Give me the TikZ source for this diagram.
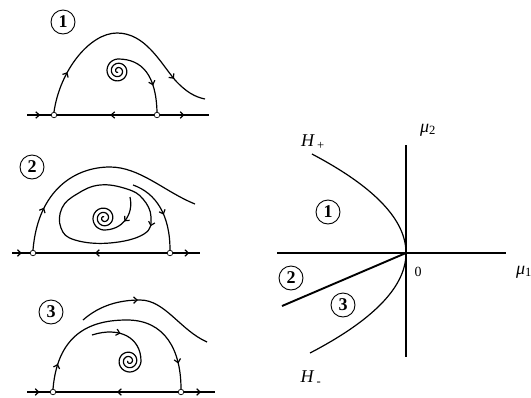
\documentclass[tikz,border=0pt]{standalone}
\usepackage{fontspec}
\setmainfont{Liberation Serif}
\usetikzlibrary{arrows.meta,decorations.markings}

\begin{document}
\begin{tikzpicture}[x=1pt, y=-1pt,
  traj/.style={line width=1.2pt, line join=round},
  thickln/.style={line width=1.9pt},
  eq/.style={circle, draw, fill=white, inner sep=0pt, minimum size=5.5pt, line width=0.7pt},
  region/.style={circle, draw, line width=0.9pt, inner sep=0pt, minimum size=24pt, font=\fontsize{18}{18}\selectfont\bfseries},
  lbl/.style={inner sep=0pt, font=\fontsize{18}{20}\selectfont},
  fwd/.style={postaction={decorate, decoration={markings, mark=at position #1 with {\arrow{Straight Barb[length=3.5pt,width=6.5pt]}}}}},
  bwd/.style={postaction={decorate, decoration={markings, mark=at position #1 with {\arrowreversed{Straight Barb[length=3.5pt,width=6.5pt]}}}}}
]
  \useasboundingbox (0,0) rectangle (531,397);

  % panel 1
  \node[region] (r1) at (63,22) {1};
  \coordinate (L1) at (27,115);
  \coordinate (R1) at (209,115);
  \node[eq] (A1) at (54,115) {};
  \node[eq] (B1) at (157,115) {};
  \draw[traj, fwd=0.55] (L1) -- (A1);
  \draw[traj, bwd=0.55] (A1) -- (B1);
  \draw[traj, fwd=0.5] (B1) -- (R1);
  \draw[traj, fwd=0.19, fwd=0.83] (A1.north) .. controls (60,70) and (90,33) .. (117,33)
    .. controls (145,33) and (160,62) .. (175,80) .. controls (186,92) and (195,97) .. (205,99);
  \draw[traj, bwd=0.15] (B1.north) .. controls (156,75) and (142,59) .. (118,59)
    -- plot[domain=0:900, samples=181] ({118+12*(1-\x/1000)*cos(90+\x)}, {71-12*(1-\x/1000)*sin(90+\x)});

  % panel 2
  \node[region] (r2) at (32,167) {2};
  \coordinate (L2) at (12,253);
  \coordinate (R2) at (200,253);
  \node[eq] (A2) at (33,253) {};
  \node[eq] (B2) at (170,253) {};
  \draw[traj, fwd=0.55] (L2) -- (A2);
  \draw[traj, bwd=0.45] (A2) -- (B2);
  \draw[traj, fwd=0.6] (B2) -- (R2);
  \draw[traj, fwd=0.2] (A2.north) .. controls (38,190) and (75,167) .. (110,167)
    .. controls (140,167) and (165,192) .. (195,204);
  \draw[traj, fwd=0.2] plot[smooth cycle, tension=0.7] coordinates {(100,185) (127,189) (143,199) (151,217) (144,234) (110,243) (75,240) (61,228) (62,208) (77,194)};
  \coordinate (s2) at (133,185);
  \draw[traj, fwd=0.55] (s2) .. controls (156,193) and (170,215) .. (B2.north);
  \coordinate (t2) at (130,197);
  \draw[traj, fwd=0.17] (t2) .. controls (134,215) and (122,230) .. (104,230)
    -- plot[domain=0:900, samples=181] ({104+12*(1-\x/1000)*cos(270-\x)}, {218-12*(1-\x/1000)*sin(270-\x)});

  % panel 3
  \node[region] (r3) at (51,312) {3};
  \coordinate (L3) at (27,392);
  \coordinate (R3) at (215,392);
  \node[eq] (A3) at (53,392) {};
  \node[eq] (B3) at (181,392) {};
  \draw[traj, fwd=0.55] (L3) -- (A3);
  \draw[traj, bwd=0.5] (A3) -- (B3);
  \draw[traj, fwd=0.55] (B3) -- (R3);
  \draw[traj, fwd=0.12, fwd=0.88] (A3.north) .. controls (58,330) and (95,320) .. (127,320)
    .. controls (165,320) and (181,350) .. (B3.north);
  \coordinate (u3) at (83,320);
  \draw[traj, fwd=0.42] (u3) .. controls (100,305) and (120,300) .. (140,300)
    .. controls (165,300) and (180,330) .. (207,342);
  \coordinate (t3) at (92,335);
  \draw[traj, fwd=0.17] (t3) .. controls (120,326) and (141,338) .. (141,361)
    -- plot[domain=0:900, samples=181] ({129+12*(1-\x/1000)*cos(-\x)}, {361-12*(1-\x/1000)*sin(-\x)});

  % parameter plane
  \coordinate (O) at (406,253);
  \coordinate (vtop) at (406,145);
  \coordinate (vbot) at (406,357);
  \coordinate (hleft) at (277,253);
  \coordinate (hright) at (506,253);
  \coordinate (sl) at (282,306);
  \draw[traj] (vtop) -- (vbot);
  \draw[traj] (O) -- (hright);
  \draw[thickln] (hleft) -- (O);
  \draw[thickln] (O) -- (sl);
  \draw[traj] plot[domain=-99:100, samples=80, smooth] ({406-0.0096*\x*\x}, {253+\x});
  \node[lbl] (hp) at (313,142) {\textit{H}\textsubscript{\,+}};
  \node[lbl] (hm) at (311,378) {\textit{H}\textsubscript{\,-}};
  \node[lbl] (m2) at (428,130) {\textit{μ}\textsubscript{2}};
  \node[lbl, anchor=west] (m1) at (516,272) {\textit{μ}\textsubscript{1}};
  \node[lbl, font=\fontsize{14}{16}\selectfont] (zero) at (418,272) {0};
  \node[region] (p1) at (328,212) {1};
  \node[region] (p2) at (291,278) {2};
  \node[region] (p3) at (343,305) {3};
\end{tikzpicture}
\end{document}
